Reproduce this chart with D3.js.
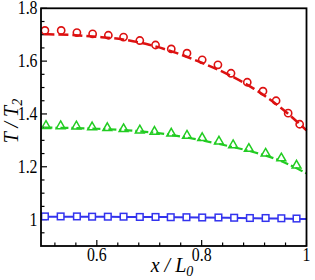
<!DOCTYPE html>
<html>
<head>
<meta charset="utf-8">
<script src="https://cdn.jsdelivr.net/npm/d3@7"></script>
<style>
  body { margin: 0; background: #fff; }
  text { font-family: "Liberation Serif", "Times New Roman", serif; }
</style>
</head>
<body>
<div id="chart"></div>
<script>
// line data (simulation curves)
var lineX = [0.5, 0.55, 0.6, 0.65, 0.7, 0.75, 0.8, 0.85, 0.9, 0.95, 1.0];
var redLine = [1.702, 1.699, 1.692, 1.682, 1.662, 1.632, 1.594, 1.550, 1.495, 1.425, 1.338];
var greenLine = [1.348, 1.347, 1.344, 1.339, 1.331, 1.318, 1.300, 1.279, 1.255, 1.223, 1.175];
var blueLine = [1.011, 1.011, 1.011, 1.010, 1.010, 1.009, 1.008, 1.007, 1.005, 1.004, 1.002];

// marker data
var redX = [0.501, 0.532, 0.562, 0.592, 0.622, 0.651, 0.682, 0.712, 0.742, 0.772, 0.801, 0.831, 0.856, 0.887, 0.917, 0.942, 0.965, 0.987];
var redY = [1.716, 1.716, 1.708, 1.703, 1.698, 1.691, 1.678, 1.661, 1.646, 1.630, 1.605, 1.586, 1.554, 1.520, 1.486, 1.450, 1.403, 1.361];
var greenX = [0.503, 0.531, 0.561, 0.591, 0.620, 0.651, 0.682, 0.710, 0.742, 0.772, 0.801, 0.833, 0.860, 0.890, 0.922, 0.952, 0.981];
var greenY = [1.355, 1.354, 1.353, 1.350, 1.347, 1.343, 1.338, 1.333, 1.326, 1.318, 1.309, 1.296, 1.282, 1.268, 1.250, 1.232, 1.205];
var blueX = [0.501, 0.531, 0.562, 0.591, 0.621, 0.651, 0.682, 0.712, 0.741, 0.771, 0.801, 0.832, 0.862, 0.892, 0.922, 0.952, 0.981];
var blueY = [1.012, 1.012, 1.012, 1.011, 1.011, 1.011, 1.010, 1.010, 1.009, 1.009, 1.008, 1.008, 1.007, 1.006, 1.006, 1.005, 1.004];

// ticks
var xMajor = [0.6, 0.8, 1.0];
var xLabels = ["0.6", "0.8", "1"];
var yMajor = [1.0, 1.2, 1.4, 1.6, 1.8];
var yLabels = ["1", "1.2", "1.4", "1.6", "1.8"];

var width = 315, height = 280;
var padL = 41, padR = 306.5, padT = 8.3, padB = 246;

var svg = d3.select("#chart").append("svg")
    .attr("width", width)
    .attr("height", height);

var x = d3.scaleLinear().domain([0.4935, 1.0]).range([padL, padR]);
var y = d3.scaleLinear().domain([0.9, 1.8]).range([padB, padT]);

var red = "#dd1111", green = "#22cc22", blue = "#3333ee";

// minor ticks
var xMinor = d3.range(0.52, 1.0001, 0.04).filter(function (v) {
    return xMajor.every(function (m) { return Math.abs(m - v) > 1e-6; });
});
var yMinor = d3.range(0.95, 1.8001, 0.05).filter(function (v) {
    return yMajor.every(function (m) { return Math.abs(m - v) > 1e-6; });
});

var ticks = svg.append("g").attr("stroke", "#000").attr("stroke-width", 1.2);
xMinor.forEach(function (v) {
    ticks.append("line").attr("x1", x(v)).attr("x2", x(v)).attr("y1", padB).attr("y2", padB - 3.5);
});
xMajor.forEach(function (v) {
    ticks.append("line").attr("x1", x(v)).attr("x2", x(v)).attr("y1", padB).attr("y2", padB - 6);
});
yMinor.forEach(function (v) {
    ticks.append("line").attr("x1", padL).attr("x2", padL + 3.5).attr("y1", y(v)).attr("y2", y(v));
});
yMajor.forEach(function (v) {
    ticks.append("line").attr("x1", padL).attr("x2", padL + 6).attr("y1", y(v)).attr("y2", y(v));
});

// tick labels
xMajor.forEach(function (v, i) {
    svg.append("text")
        .attr("transform", "translate(" + x(v) + "," + 261 + ") scale(0.88,1)")
        .attr("text-anchor", "middle")
        .attr("font-size", 18)
        .text(xLabels[i]);
});
yMajor.forEach(function (v, i) {
    svg.append("text")
        .attr("transform", "translate(" + 37.5 + "," + (y(v) + 6) + ") scale(0.88,1)")
        .attr("text-anchor", "end")
        .attr("font-size", 18)
        .text(yLabels[i]);
});

// curves
function makeLine(xs, ys) {
    return d3.line()
        .x(function (d, i) { return x(xs[i]); })
        .y(function (d) { return y(d); })
        .curve(d3.curveMonotoneX)(ys);
}

var plot = svg.append("g");

plot.append("path").attr("d", makeLine(lineX, blueLine))
    .attr("fill", "none").attr("stroke", blue).attr("stroke-width", 2);
plot.append("path").attr("d", makeLine(lineX, greenLine))
    .attr("fill", "none").attr("stroke", green).attr("stroke-width", 2.2)
    .attr("stroke-dasharray", "8,3,2,3");
plot.append("path").attr("d", makeLine(lineX, redLine))
    .attr("fill", "none").attr("stroke", red).attr("stroke-width", 2.5)
    .attr("stroke-dasharray", "10,4");

// markers
plot.selectAll("circle.red").data(redY).enter().append("circle")
    .attr("class", "red")
    .attr("cx", function (d, i) { return x(redX[i]); })
    .attr("cy", function (d) { return y(d); })
    .attr("r", 3.6)
    .attr("fill", "none")
    .attr("stroke", red)
    .attr("stroke-width", 1.6);

var tri = d3.symbol().type(d3.symbolTriangle).size(34);
plot.selectAll("path.green").data(greenY).enter().append("path")
    .attr("class", "green")
    .attr("d", tri)
    .attr("transform", function (d, i) { return "translate(" + x(greenX[i]) + "," + y(d) + ")"; })
    .attr("fill", "none")
    .attr("stroke", green)
    .attr("stroke-width", 1.5);

plot.selectAll("rect.blue").data(blueY).enter().append("rect")
    .attr("class", "blue")
    .attr("x", function (d, i) { return x(blueX[i]) - 3.3; })
    .attr("y", function (d) { return y(d) - 3.3; })
    .attr("width", 6.6)
    .attr("height", 6.6)
    .attr("fill", "#fff")
    .attr("stroke", blue)
    .attr("stroke-width", 1.5);

// frame
svg.append("rect")
    .attr("x", padL).attr("y", padT)
    .attr("width", padR - padL).attr("height", padB - padT)
    .attr("fill", "none").attr("stroke", "#000").attr("stroke-width", 1.8);

// axis titles
var xt = svg.append("text")
    .attr("x", 172).attr("y", 272)
    .attr("text-anchor", "middle")
    .attr("font-size", 20)
    .attr("font-style", "italic");
xt.append("tspan").text("x / L");
xt.append("tspan").attr("font-size", 14).attr("dy", 4).text("0");

var yt = svg.append("text")
    .attr("transform", "translate(18,121) rotate(-90)")
    .attr("text-anchor", "middle")
    .attr("font-size", 20)
    .attr("font-style", "italic");
yt.append("tspan").text("T / T");
yt.append("tspan").attr("font-size", 14).attr("dy", 4).text("2");
</script>
</body>
</html>
